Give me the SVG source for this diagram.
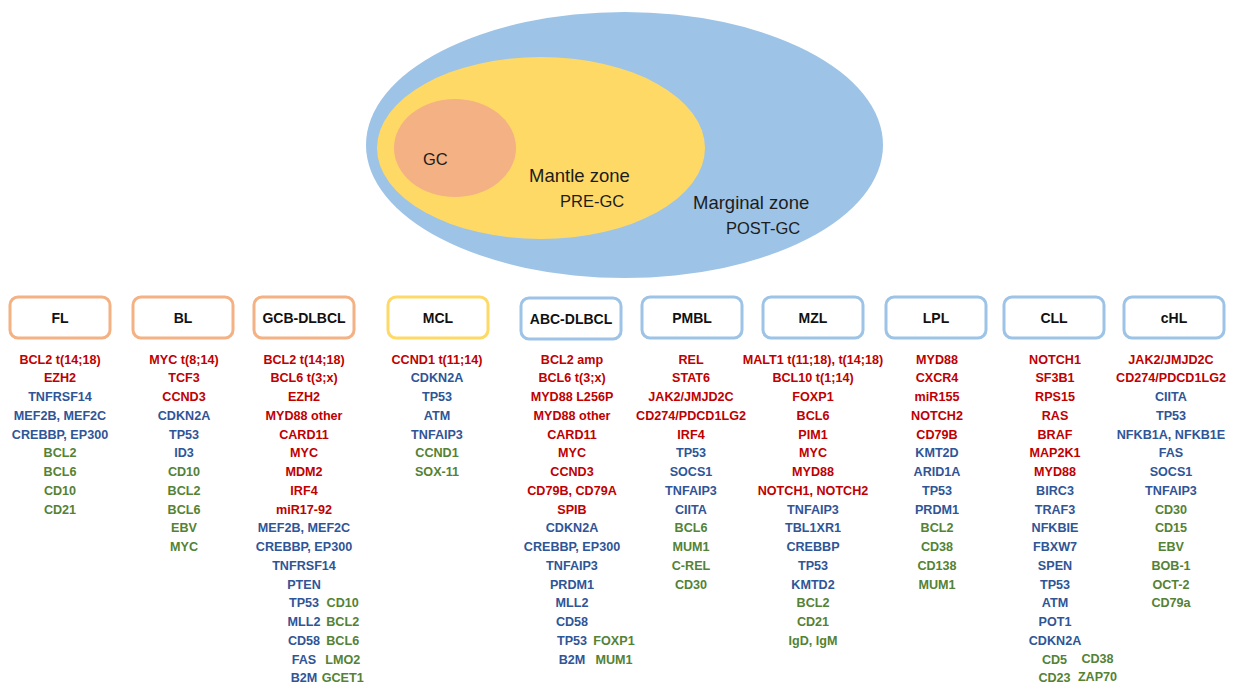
<svg xmlns="http://www.w3.org/2000/svg" width="1238" height="684" viewBox="0 0 1238 684">
<style>
.zone{font-family:"Liberation Sans",Arial,sans-serif;fill:#1c1c1c}
.box{fill:#fff;stroke-width:3}
.o{stroke:#F4B183}.y{stroke:#FFD966}.bl{stroke:#9DC3E6}
.h{font-family:"Liberation Sans",Arial,sans-serif;font-weight:bold;font-size:14px;fill:#111;text-anchor:middle}
.t{font-family:"Liberation Sans",Arial,sans-serif;font-weight:bold;font-size:12.6px;text-anchor:middle}
.r{fill:#C00000}.b{fill:#2F5597}.g{fill:#548235}
</style>
<g id="zones">
<ellipse cx="624.5" cy="145" rx="258.5" ry="133" fill="#9DC3E6"/>
<ellipse cx="541" cy="148" rx="164" ry="91" fill="#FFD966"/>
<ellipse cx="455" cy="148" rx="61" ry="49" fill="#F4B183"/>
<text class="zone" x="423" y="165" font-size="16.5">GC</text>
<text class="zone" x="529" y="182" font-size="18.5">Mantle zone</text>
<text class="zone" x="560" y="207" font-size="16.5">PRE-GC</text>
<text class="zone" x="693" y="209" font-size="18.5">Marginal zone</text>
<text class="zone" x="726" y="234" font-size="16.5">POST-GC</text>
</g>
<g id="FL">
<rect class="box o" x="10" y="297" width="100" height="41" rx="8"/>
<text class="h" x="60" y="323">FL</text>
<text class="t" x="60" y="363.5"><tspan class="r">BCL2 t(14;18)</tspan><tspan class="r" x="60" dy="18.75">EZH2</tspan><tspan class="b" x="60" dy="18.75">TNFRSF14</tspan><tspan class="b" x="60" dy="18.75">MEF2B, MEF2C</tspan><tspan class="b" x="60" dy="18.75">CREBBP, EP300</tspan><tspan class="g" x="60" dy="18.75">BCL2</tspan><tspan class="g" x="60" dy="18.75">BCL6</tspan><tspan class="g" x="60" dy="18.75">CD10</tspan><tspan class="g" x="60" dy="18.75">CD21</tspan></text>
</g>
<g id="BL">
<rect class="box o" x="133" y="297" width="100" height="41" rx="8"/>
<text class="h" x="183" y="323">BL</text>
<text class="t" x="184" y="363.5"><tspan class="r">MYC t(8;14)</tspan><tspan class="r" x="184" dy="18.75">TCF3</tspan><tspan class="r" x="184" dy="18.75">CCND3</tspan><tspan class="b" x="184" dy="18.75">CDKN2A</tspan><tspan class="b" x="184" dy="18.75">TP53</tspan><tspan class="b" x="184" dy="18.75">ID3</tspan><tspan class="g" x="184" dy="18.75">CD10</tspan><tspan class="g" x="184" dy="18.75">BCL2</tspan><tspan class="g" x="184" dy="18.75">BCL6</tspan><tspan class="g" x="184" dy="18.75">EBV</tspan><tspan class="g" x="184" dy="18.75">MYC</tspan></text>
</g>
<g id="GCB-DLBCL">
<rect class="box o" x="254" y="297" width="100" height="41" rx="8"/>
<text class="h" x="304" y="323">GCB-DLBCL</text>
<text class="t" x="304" y="363.5"><tspan class="r">BCL2 t(14;18)</tspan><tspan class="r" x="304" dy="18.75">BCL6 t(3;x)</tspan><tspan class="r" x="304" dy="18.75">EZH2</tspan><tspan class="r" x="304" dy="18.75">MYD88 other</tspan><tspan class="r" x="304" dy="18.75">CARD11</tspan><tspan class="r" x="304" dy="18.75">MYC</tspan><tspan class="r" x="304" dy="18.75">MDM2</tspan><tspan class="r" x="304" dy="18.75">IRF4</tspan><tspan class="r" x="304" dy="18.75">miR17-92</tspan><tspan class="b" x="304" dy="18.75">MEF2B, MEF2C</tspan><tspan class="b" x="304" dy="18.75">CREBBP, EP300</tspan><tspan class="b" x="304" dy="18.75">TNFRSF14</tspan><tspan class="b" x="304" dy="18.75">PTEN</tspan><tspan class="b" x="304" dy="18.75">TP53</tspan><tspan class="b" x="304" dy="18.75">MLL2</tspan><tspan class="b" x="304" dy="18.75">CD58</tspan><tspan class="b" x="304" dy="18.75">FAS</tspan><tspan class="b" x="304" dy="18.75">B2M</tspan></text>
<text class="t" x="342.7" y="607.25"><tspan class="g">CD10</tspan><tspan class="g" x="342.7" dy="18.75">BCL2</tspan><tspan class="g" x="342.7" dy="18.75">BCL6</tspan><tspan class="g" x="342.7" dy="18.75">LMO2</tspan><tspan class="g" x="342.7" dy="18.75">GCET1</tspan></text>
</g>
<g id="MCL">
<rect class="box y" x="388" y="297" width="100" height="41" rx="8"/>
<text class="h" x="438" y="323">MCL</text>
<text class="t" x="437" y="363.5"><tspan class="r">CCND1 t(11;14)</tspan><tspan class="b" x="437" dy="18.75">CDKN2A</tspan><tspan class="b" x="437" dy="18.75">TP53</tspan><tspan class="b" x="437" dy="18.75">ATM</tspan><tspan class="b" x="437" dy="18.75">TNFAIP3</tspan><tspan class="g" x="437" dy="18.75">CCND1</tspan><tspan class="g" x="437" dy="18.75">SOX-11</tspan></text>
</g>
<g id="ABC-DLBCL">
<rect class="box bl" x="521" y="298" width="100" height="41" rx="8"/>
<text class="h" x="571" y="324">ABC-DLBCL</text>
<text class="t" x="572" y="363.5"><tspan class="r">BCL2 amp</tspan><tspan class="r" x="572" dy="18.75">BCL6 t(3;x)</tspan><tspan class="r" x="572" dy="18.75">MYD88 L256P</tspan><tspan class="r" x="572" dy="18.75">MYD88 other</tspan><tspan class="r" x="572" dy="18.75">CARD11</tspan><tspan class="r" x="572" dy="18.75">MYC</tspan><tspan class="r" x="572" dy="18.75">CCND3</tspan><tspan class="r" x="572" dy="18.75">CD79B, CD79A</tspan><tspan class="r" x="572" dy="18.75">SPIB</tspan><tspan class="b" x="572" dy="18.75">CDKN2A</tspan><tspan class="b" x="572" dy="18.75">CREBBP, EP300</tspan><tspan class="b" x="572" dy="18.75">TNFAIP3</tspan><tspan class="b" x="572" dy="18.75">PRDM1</tspan><tspan class="b" x="572" dy="18.75">MLL2</tspan><tspan class="b" x="572" dy="18.75">CD58</tspan><tspan class="b" x="572" dy="18.75">TP53</tspan><tspan class="b" x="572" dy="18.75">B2M</tspan></text>
<text class="t" x="614" y="644.75"><tspan class="g">FOXP1</tspan><tspan class="g" x="614" dy="18.75">MUM1</tspan></text>
</g>
<g id="PMBL">
<rect class="box bl" x="642" y="297" width="100" height="41" rx="8"/>
<text class="h" x="692" y="323">PMBL</text>
<text class="t" x="691" y="363.5"><tspan class="r">REL</tspan><tspan class="r" x="691" dy="18.75">STAT6</tspan><tspan class="r" x="691" dy="18.75">JAK2/JMJD2C</tspan><tspan class="r" x="691" dy="18.75">CD274/PDCD1LG2</tspan><tspan class="r" x="691" dy="18.75">IRF4</tspan><tspan class="b" x="691" dy="18.75">TP53</tspan><tspan class="b" x="691" dy="18.75">SOCS1</tspan><tspan class="b" x="691" dy="18.75">TNFAIP3</tspan><tspan class="b" x="691" dy="18.75">CIITA</tspan><tspan class="g" x="691" dy="18.75">BCL6</tspan><tspan class="g" x="691" dy="18.75">MUM1</tspan><tspan class="g" x="691" dy="18.75">C-REL</tspan><tspan class="g" x="691" dy="18.75">CD30</tspan></text>
</g>
<g id="MZL">
<rect class="box bl" x="763" y="297" width="100" height="41" rx="8"/>
<text class="h" x="813" y="323">MZL</text>
<text class="t" x="813" y="363.5"><tspan class="r">MALT1 t(11;18), t(14;18)</tspan><tspan class="r" x="813" dy="18.75">BCL10 t(1;14)</tspan><tspan class="r" x="813" dy="18.75">FOXP1</tspan><tspan class="r" x="813" dy="18.75">BCL6</tspan><tspan class="r" x="813" dy="18.75">PIM1</tspan><tspan class="r" x="813" dy="18.75">MYC</tspan><tspan class="r" x="813" dy="18.75">MYD88</tspan><tspan class="r" x="813" dy="18.75">NOTCH1, NOTCH2</tspan><tspan class="b" x="813" dy="18.75">TNFAIP3</tspan><tspan class="b" x="813" dy="18.75">TBL1XR1</tspan><tspan class="b" x="813" dy="18.75">CREBBP</tspan><tspan class="b" x="813" dy="18.75">TP53</tspan><tspan class="b" x="813" dy="18.75">KMTD2</tspan><tspan class="g" x="813" dy="18.75">BCL2</tspan><tspan class="g" x="813" dy="18.75">CD21</tspan><tspan class="g" x="813" dy="18.75">IgD, IgM</tspan></text>
</g>
<g id="LPL">
<rect class="box bl" x="886" y="297" width="100" height="41" rx="8"/>
<text class="h" x="936" y="323">LPL</text>
<text class="t" x="937" y="363.5"><tspan class="r">MYD88</tspan><tspan class="r" x="937" dy="18.75">CXCR4</tspan><tspan class="r" x="937" dy="18.75">miR155</tspan><tspan class="r" x="937" dy="18.75">NOTCH2</tspan><tspan class="r" x="937" dy="18.75">CD79B</tspan><tspan class="b" x="937" dy="18.75">KMT2D</tspan><tspan class="b" x="937" dy="18.75">ARID1A</tspan><tspan class="b" x="937" dy="18.75">TP53</tspan><tspan class="b" x="937" dy="18.75">PRDM1</tspan><tspan class="g" x="937" dy="18.75">BCL2</tspan><tspan class="g" x="937" dy="18.75">CD38</tspan><tspan class="g" x="937" dy="18.75">CD138</tspan><tspan class="g" x="937" dy="18.75">MUM1</tspan></text>
</g>
<g id="CLL">
<rect class="box bl" x="1004" y="297" width="100" height="41" rx="8"/>
<text class="h" x="1054" y="323">CLL</text>
<text class="t" x="1055" y="363.5"><tspan class="r">NOTCH1</tspan><tspan class="r" x="1055" dy="18.75">SF3B1</tspan><tspan class="r" x="1055" dy="18.75">RPS15</tspan><tspan class="r" x="1055" dy="18.75">RAS</tspan><tspan class="r" x="1055" dy="18.75">BRAF</tspan><tspan class="r" x="1055" dy="18.75">MAP2K1</tspan><tspan class="r" x="1055" dy="18.75">MYD88</tspan><tspan class="b" x="1055" dy="18.75">BIRC3</tspan><tspan class="b" x="1055" dy="18.75">TRAF3</tspan><tspan class="b" x="1055" dy="18.75">NFKBIE</tspan><tspan class="b" x="1055" dy="18.75">FBXW7</tspan><tspan class="b" x="1055" dy="18.75">SPEN</tspan><tspan class="b" x="1055" dy="18.75">TP53</tspan><tspan class="b" x="1055" dy="18.75">ATM</tspan><tspan class="b" x="1055" dy="18.75">POT1</tspan><tspan class="b" x="1055" dy="18.75">CDKN2A</tspan><tspan class="g" x="1054.5" dy="18.75">CD5</tspan><tspan class="g" x="1054.5" dy="18.75">CD23</tspan></text>
<text class="t" x="1097.5" y="662.5"><tspan class="g">CD38</tspan><tspan class="g" x="1097.5" dy="18.75">ZAP70</tspan></text>
</g>
<g id="cHL">
<rect class="box bl" x="1124" y="297" width="100" height="41" rx="8"/>
<text class="h" x="1174" y="323">cHL</text>
<text class="t" x="1171" y="363.5"><tspan class="r">JAK2/JMJD2C</tspan><tspan class="r" x="1171" dy="18.75">CD274/PDCD1LG2</tspan><tspan class="b" x="1171" dy="18.75">CIITA</tspan><tspan class="b" x="1171" dy="18.75">TP53</tspan><tspan class="b" x="1171" dy="18.75">NFKB1A, NFKB1E</tspan><tspan class="b" x="1171" dy="18.75">FAS</tspan><tspan class="b" x="1171" dy="18.75">SOCS1</tspan><tspan class="b" x="1171" dy="18.75">TNFAIP3</tspan><tspan class="g" x="1171" dy="18.75">CD30</tspan><tspan class="g" x="1171" dy="18.75">CD15</tspan><tspan class="g" x="1171" dy="18.75">EBV</tspan><tspan class="g" x="1171" dy="18.75">BOB-1</tspan><tspan class="g" x="1171" dy="18.75">OCT-2</tspan><tspan class="g" x="1171" dy="18.75">CD79a</tspan></text>
</g>
</svg>
